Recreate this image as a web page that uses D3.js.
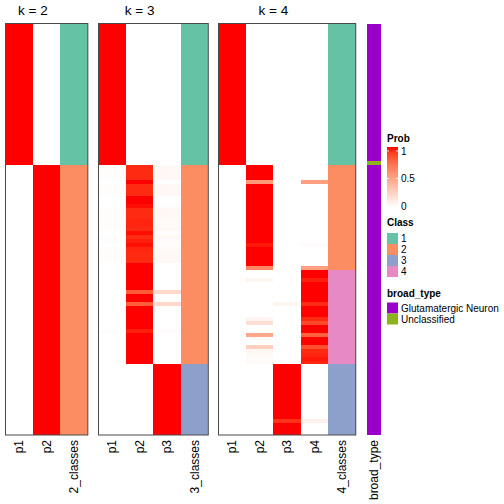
<!DOCTYPE html>
<html><head><meta charset="utf-8">
<script src="https://cdn.jsdelivr.net/npm/d3@7"></script>
<style>body{margin:0;background:#fff}svg{display:block;font-family:"Liberation Sans",Arial,Helvetica,sans-serif}</style>
</head><body><svg id="c" width="504" height="504"></svg>
<script>
// ---- data (one entry per sample row, 105 rows, top to bottom) ----
const k2_p1 = [
1,1,1,1,1,1,1,1,1,1,1,1,1,1,1,
1,1,1,1,1,1,1,1,1,1,1,1,1,1,1,
1,1,1,1,1,1,0,0,0,0,0,0,0,0,0,
0,0,0,0,0,0,0,0,0,0,0,0,0,0,0,
0,0,0,0,0,0,0,0,0,0,0,0,0,0,0,
0,0,0,0,0,0,0,0,0,0,0,0,0,0,0,
0,0,0,0,0,0,0,0,0,0,0,0,0,0,0];
const k2_p2 = [
0,0,0,0,0,0,0,0,0,0,0,0,0,0,0,
0,0,0,0,0,0,0,0,0,0,0,0,0,0,0,
0,0,0,0,0,0,1,1,1,1,1,1,1,1,1,
1,1,1,1,1,1,1,1,1,1,1,1,1,1,1,
1,1,1,1,1,1,1,1,1,1,1,1,1,1,1,
1,1,1,1,1,1,1,1,1,1,1,1,1,1,1,
1,1,1,1,1,1,1,1,1,1,1,1,1,1,1];
const k2_class = [
1,1,1,1,1,1,1,1,1,1,1,1,1,1,1,
1,1,1,1,1,1,1,1,1,1,1,1,1,1,1,
1,1,1,1,1,1,2,2,2,2,2,2,2,2,2,
2,2,2,2,2,2,2,2,2,2,2,2,2,2,2,
2,2,2,2,2,2,2,2,2,2,2,2,2,2,2,
2,2,2,2,2,2,2,2,2,2,2,2,2,2,2,
2,2,2,2,2,2,2,2,2,2,2,2,2,2,2];

const k3_p1 = [
1,1,1,1,1,1,1,1,1,1,1,1,1,1,1,
1,1,1,1,1,1,1,1,1,1,1,1,1,1,1,
1,1,1,1,1,1,.01,.01,.01,.01,0,.01,.01,.01,0,
0,0,.01,.01,.01,.01,.01,.01,0,.01,.01,0,.01,.01,.01,
.01,0,0,0,0,0,0,0,0,0,0,0,0,0,0,
0,0,0,.01,0,0,0,0,0,0,0,0,0,0,0,
0,0,0,0,0,0,0,0,0,0,0,0,0,0,0];
const k3_p2 = [
0,0,0,0,0,0,0,0,0,0,0,0,0,0,0,
0,0,0,0,0,0,0,0,0,0,0,0,0,0,0,
0,0,0,0,0,0,.95,.95,.95,.95,1,.95,.95,.95,1,
1,.99,.95,.95,.95,.96,.96,.95,.99,.95,.97,.99,.96,.95,.95,
.95,1,1,1,1,1,1,1,.8,1,1,.8,1,1,1,
1,1,1,.97,1,1,1,1,1,1,1,1,0,0,0,
0,0,0,0,0,0,0,0,0,0,0,0,0,0,0];
const k3_p3 = [
0,0,0,0,0,0,0,0,0,0,0,0,0,0,0,
0,0,0,0,0,0,0,0,0,0,0,0,0,0,0,
0,0,0,0,0,0,.04,.04,.04,.04,0,.04,.04,.04,0,
0,.01,.04,.04,.04,.03,.03,.04,.01,.04,.02,.01,.03,.04,.04,
.04,0,0,0,0,0,0,0,.2,0,0,.2,0,0,0,
0,0,0,.02,0,0,0,0,0,0,0,0,1,1,1,
1,1,1,1,1,1,1,1,1,1,1,1,1,1,1];
const k3_class = [
1,1,1,1,1,1,1,1,1,1,1,1,1,1,1,
1,1,1,1,1,1,1,1,1,1,1,1,1,1,1,
1,1,1,1,1,1,2,2,2,2,2,2,2,2,2,
2,2,2,2,2,2,2,2,2,2,2,2,2,2,2,
2,2,2,2,2,2,2,2,2,2,2,2,2,2,2,
2,2,2,2,2,2,2,2,2,2,2,2,3,3,3,
3,3,3,3,3,3,3,3,3,3,3,3,3,3,3];

const k4_p1 = [
1,1,1,1,1,1,1,1,1,1,1,1,1,1,1,
1,1,1,1,1,1,1,1,1,1,1,1,1,1,1,
1,1,1,1,1,1,0,0,0,0,0,0,0,0,0,
0,0,0,0,0,0,0,0,0,0,0,0,0,0,0,
0,0,0,0,0,0,0,0,0,0,0,0,0,0,0,
0,0,0,0,0,0,0,0,0,0,0,0,0,0,0,
0,0,0,0,0,0,0,0,0,0,0,0,0,0,0];
const k4_p2 = [
0,0,0,0,0,0,0,0,0,0,0,0,0,0,0,
0,0,0,0,0,0,0,0,0,0,0,0,0,0,0,
0,0,0,0,0,0,1,1,1,1,.53,1,1,1,1,
1,1,1,1,1,1,1,1,1,1,1,.98,1,1,1,
1,1,.62,0,0,.05,0,0,0,0,0,0,0,0,0,
.06,.17,0,0,.45,0,0,.25,.05,.03,.02,.03,0,0,0,
0,0,0,0,0,0,0,0,0,0,0,0,0,0,0];
const k4_p3 = [
0,0,0,0,0,0,0,0,0,0,0,0,0,0,0,
0,0,0,0,0,0,0,0,0,0,0,0,0,0,0,
0,0,0,0,0,0,0,0,0,0,0,0,0,0,0,
0,0,0,0,0,0,0,0,0,0,0,0,0,0,0,
0,0,0,0,0,0,0,0,0,0,0,.05,0,0,0,
0,0,0,0,0,0,0,0,0,0,0,0,1,1,1,
1,1,1,1,1,1,1,1,1,1,1,.93,1,1,1];
const k4_p4 = [
0,0,0,0,0,0,0,0,0,0,0,0,0,0,0,
0,0,0,0,0,0,0,0,0,0,0,0,0,0,0,
0,0,0,0,0,0,0,0,0,0,.5,0,0,0,0,
0,0,0,0,0,0,0,0,0,0,0,.02,0,0,0,
0,0,.5,1,1,.97,1,1,1,1,1,.95,1,1,1,
.95,.87,1,1,.78,1,1,.85,.95,.96,.98,.96,0,0,0,
0,0,0,0,0,0,0,0,0,0,0,.07,0,0,0];
const k4_class = [
1,1,1,1,1,1,1,1,1,1,1,1,1,1,1,
1,1,1,1,1,1,1,1,1,1,1,1,1,1,1,
1,1,1,1,1,1,2,2,2,2,2,2,2,2,2,
2,2,2,2,2,2,2,2,2,2,2,2,2,2,2,
2,2,2,4,4,4,4,4,4,4,4,4,4,4,4,
4,4,4,4,4,4,4,4,4,4,4,4,3,3,3,
3,3,3,3,3,3,3,3,3,3,3,3,3,3,3];

const G = "Glutamatergic Neuron", U = "Unclassified";
const broad_type = [
G,G,G,G,G,G,G,G,G,G,G,G,G,G,G,
G,G,G,G,G,G,G,G,G,G,G,G,G,G,G,
G,G,G,G,G,U,G,G,G,G,G,G,G,G,G,
G,G,G,G,G,G,G,G,G,G,G,G,G,G,G,
G,G,G,G,G,G,G,G,G,G,G,G,G,G,G,
G,G,G,G,G,G,G,G,G,G,G,G,G,G,G,
G,G,G,G,G,G,G,G,G,G,G,G,G,G,G];

const classLevels = [1,2,3,4];
const classColors = ["#66C2A5","#FC8D62","#8DA0CB","#E78AC3"];
const broadLevels = [G, U];
const broadColors = ["#9A00C9","#8DB31B"];
const probTicks = [0, 0.5, 1];
const panelTitles = ["k = 2","k = 3","k = 4"];

// ---- drawing ----
const svg = d3.select("#c");
const N = k2_p1.length;
const y = d3.scaleBand().domain(d3.range(N)).range([23.5, 435]);
const probColor = d3.scaleLinear().domain([0,1]).range(["#ffffff","#ff0000"]).interpolate(d3.interpolateLab);
const classColor = d3.scaleOrdinal().domain(classLevels).range(classColors);
const broadColor = d3.scaleOrdinal().domain(broadLevels).range(broadColors);

const colW = 27.45;
const panels = [
  {title: panelTitles[0], x0: 5.5, cols: [["p1",k2_p1],["p2",k2_p2]], classes: k2_class, label: "2_classes"},
  {title: panelTitles[1], x0: 98.5, cols: [["p1",k3_p1],["p2",k3_p2],["p3",k3_p3]], classes: k3_class, label: "3_classes"},
  {title: panelTitles[2], x0: 218.5, cols: [["p1",k4_p1],["p2",k4_p2],["p3",k4_p3],["p4",k4_p4]], classes: k4_class, label: "4_classes"}
];

panels.forEach(p => {
  const names = p.cols.map(c => c[0]).concat([p.label]);
  const x = d3.scaleBand().domain(names).range([p.x0, p.x0 + colW * names.length]);
  const g = svg.append("g");
  p.cols.forEach(([name, vals]) => {
    g.append("g").selectAll("rect").data(vals).join("rect")
      .attr("x", x(name)).attr("y", (d,i) => y(i))
      .attr("width", x.bandwidth()).attr("height", y.bandwidth())
      .attr("fill", d => probColor(d)).attr("shape-rendering","crispEdges");
  });
  g.append("g").selectAll("rect").data(p.classes).join("rect")
    .attr("x", x(p.label)).attr("y", (d,i) => y(i))
    .attr("width", x.bandwidth()).attr("height", y.bandwidth())
    .attr("fill", d => classColor(d)).attr("shape-rendering","crispEdges");
  g.append("rect").attr("x", p.x0).attr("y", 23.5)
    .attr("width", colW * names.length).attr("height", 435 - 23.5)
    .attr("fill","none").attr("stroke","#4a4a4a").attr("stroke-width",1);
  // title centered over probability columns
  const pc = p.cols.map(c => c[0]);
  const tx = (x(pc[0]) + x(pc[pc.length-1]) + x.bandwidth()) / 2;
  svg.append("text").attr("x", tx).attr("y", 15).attr("text-anchor","middle")
    .attr("font-size", 13.5).attr("fill","#000").text(p.title);
  names.forEach(n => {
    svg.append("text")
      .attr("transform", `translate(${x(n) + x.bandwidth()/2},440) rotate(-90)`)
      .attr("text-anchor","end").attr("dominant-baseline","central")
      .attr("font-size", 12).attr("fill","#000").text(n);
  });
});

// broad_type annotation column
const bx = d3.scaleBand().domain(["broad_type"]).range([367, 381]);
svg.append("g").selectAll("rect").data(broad_type).join("rect")
  .attr("x", bx("broad_type")).attr("y", (d,i) => y(i))
  .attr("width", bx.bandwidth()).attr("height", y.bandwidth())
  .attr("fill", d => broadColor(d)).attr("shape-rendering","crispEdges");
svg.append("text")
  .attr("transform", `translate(${bx("broad_type") + bx.bandwidth()/2},440) rotate(-90)`)
  .attr("text-anchor","end").attr("dominant-baseline","central")
  .attr("font-size", 12).text("broad_type");

// ---- legends ----
const lx = 387;
const lg = svg.append("g");
lg.append("text").attr("x", lx).attr("y", 142).attr("font-size", 10).attr("font-weight","bold").text("Prob");
const defs = svg.append("defs");
const grad = defs.append("linearGradient").attr("id","pg").attr("x1",0).attr("y1",1).attr("x2",0).attr("y2",0);
d3.range(0, 1.0001, 0.1).forEach(t => grad.append("stop").attr("offset", t).attr("stop-color", probColor(t)));
const py = d3.scaleLinear().domain([0,1]).range([206, 151]);
lg.append("rect").attr("x", lx).attr("y", 147).attr("width", 11).attr("height", 60).attr("fill","url(#pg)");
probTicks.forEach(t => {
  lg.append("line").attr("x1", lx).attr("x2", lx+2).attr("y1", py(t)).attr("y2", py(t)).attr("stroke","#fff").attr("stroke-width",0.8);
  lg.append("line").attr("x1", lx+9).attr("x2", lx+11).attr("y1", py(t)).attr("y2", py(t)).attr("stroke","#fff").attr("stroke-width",0.8);
  lg.append("text").attr("x", lx+14).attr("y", py(t)).attr("dominant-baseline","central").attr("font-size",10).text(t);
});

lg.append("text").attr("x", lx).attr("y", 226).attr("font-size", 10).attr("font-weight","bold").text("Class");
classLevels.forEach((c,i) => {
  lg.append("rect").attr("x", lx).attr("y", 233 + i*11).attr("width", 11).attr("height", 11).attr("fill", classColor(c));
  lg.append("text").attr("x", lx+14).attr("y", 238.5 + i*11).attr("dominant-baseline","central").attr("font-size",10).text(c);
});

lg.append("text").attr("x", lx).attr("y", 297).attr("font-size", 10).attr("font-weight","bold").text("broad_type");
broadLevels.forEach((b,i) => {
  lg.append("rect").attr("x", lx).attr("y", 302.5 + i*11).attr("width", 11).attr("height", 11).attr("fill", broadColor(b));
  lg.append("text").attr("x", lx+14).attr("y", 308 + i*11).attr("dominant-baseline","central").attr("font-size",10).text(b);
});
</script></body></html>
